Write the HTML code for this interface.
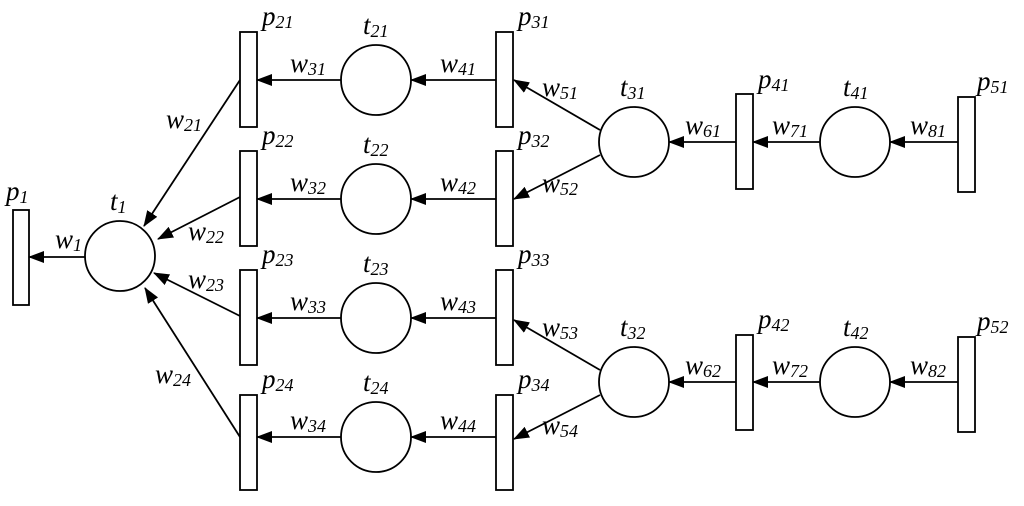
<!DOCTYPE html>
<html><head><style>body{margin:0;background:#fff} text{font-family:"Liberation Serif","DejaVu Serif",serif;font-style:italic}</style></head><body>
<svg width="1024" height="501" viewBox="0 0 1024 501" xmlns="http://www.w3.org/2000/svg">
<defs><marker id="a" markerWidth="16" markerHeight="12" refX="15" refY="6" orient="auto" markerUnits="userSpaceOnUse"><path d="M0,0 L16,6 L0,12 Z" fill="#000"/></marker></defs>
<g fill="#fff" stroke="#000" stroke-width="1.8">
<rect x="13" y="210" width="16" height="95"/>
<rect x="240" y="32" width="17" height="95"/><rect x="240" y="151" width="17" height="95"/>
<rect x="240" y="270" width="17" height="95"/><rect x="240" y="395" width="17" height="95"/>
<rect x="496" y="32" width="17" height="95"/><rect x="496" y="151" width="17" height="95"/>
<rect x="496" y="270" width="17" height="95"/><rect x="496" y="395" width="17" height="95"/>
<rect x="736" y="94" width="17" height="95"/><rect x="736" y="335" width="17" height="95"/>
<rect x="958" y="97" width="17" height="95"/><rect x="958" y="337" width="17" height="95"/>
<circle cx="120" cy="256" r="35"/>
<circle cx="376" cy="80" r="35"/><circle cx="376" cy="199" r="35"/>
<circle cx="376" cy="318" r="35"/><circle cx="376" cy="437" r="35"/>
<circle cx="634" cy="142" r="35"/><circle cx="634" cy="382" r="35"/>
<circle cx="855" cy="142" r="35"/><circle cx="855" cy="382" r="35"/>
</g>
<g stroke="#000" stroke-width="1.8" marker-end="url(#a)">
<line x1="85" y1="257" x2="29" y2="257"/>
<line x1="240" y1="80" x2="144" y2="226"/>
<line x1="240" y1="197" x2="158" y2="239"/>
<line x1="240" y1="316" x2="154" y2="273"/>
<line x1="240" y1="437" x2="145" y2="288"/>
<line x1="341" y1="80" x2="257" y2="80"/><line x1="496" y1="80" x2="411" y2="80"/>
<line x1="341" y1="199" x2="257" y2="199"/><line x1="496" y1="199" x2="411" y2="199"/>
<line x1="341" y1="318" x2="257" y2="318"/><line x1="496" y1="318" x2="411" y2="318"/>
<line x1="341" y1="437" x2="257" y2="437"/><line x1="496" y1="437" x2="411" y2="437"/>
<line x1="600" y1="130" x2="514" y2="80"/><line x1="600" y1="155" x2="514" y2="199"/>
<line x1="600" y1="370" x2="514" y2="320"/><line x1="600" y1="395" x2="514" y2="439"/>
<line x1="736" y1="142" x2="669" y2="142"/><line x1="820" y1="142" x2="753" y2="142"/><line x1="958" y1="142" x2="890" y2="142"/>
<line x1="736" y1="382" x2="669" y2="382"/><line x1="820" y1="382" x2="753" y2="382"/><line x1="958" y1="382" x2="890" y2="382"/>
</g>
<g font-size="27" fill="#000">
<text x="6" y="200">p<tspan font-size="18" dy="3">1</tspan></text>
<text x="110" y="210">t<tspan font-size="18" dy="3">1</tspan></text>
<text x="55" y="248">w<tspan font-size="18" dy="3">1</tspan></text>
<text x="166" y="128">w<tspan font-size="18" dy="3">21</tspan></text>
<text x="188" y="240">w<tspan font-size="18" dy="3">22</tspan></text>
<text x="188" y="288">w<tspan font-size="18" dy="3">23</tspan></text>
<text x="155" y="383">w<tspan font-size="18" dy="3">24</tspan></text>
<text x="262" y="25">p<tspan font-size="18" dy="3">21</tspan></text>
<text x="262" y="144">p<tspan font-size="18" dy="3">22</tspan></text>
<text x="262" y="263">p<tspan font-size="18" dy="3">23</tspan></text>
<text x="262" y="388">p<tspan font-size="18" dy="3">24</tspan></text>
<text x="363" y="34">t<tspan font-size="18" dy="3">21</tspan></text>
<text x="363" y="153">t<tspan font-size="18" dy="3">22</tspan></text>
<text x="363" y="272">t<tspan font-size="18" dy="3">23</tspan></text>
<text x="363" y="391">t<tspan font-size="18" dy="3">24</tspan></text>
<text x="290" y="72">w<tspan font-size="18" dy="3">31</tspan></text>
<text x="290" y="191">w<tspan font-size="18" dy="3">32</tspan></text>
<text x="290" y="310">w<tspan font-size="18" dy="3">33</tspan></text>
<text x="290" y="429">w<tspan font-size="18" dy="3">34</tspan></text>
<text x="440" y="72">w<tspan font-size="18" dy="3">41</tspan></text>
<text x="440" y="191">w<tspan font-size="18" dy="3">42</tspan></text>
<text x="440" y="310">w<tspan font-size="18" dy="3">43</tspan></text>
<text x="440" y="429">w<tspan font-size="18" dy="3">44</tspan></text>
<text x="518" y="25">p<tspan font-size="18" dy="3">31</tspan></text>
<text x="518" y="144">p<tspan font-size="18" dy="3">32</tspan></text>
<text x="518" y="263">p<tspan font-size="18" dy="3">33</tspan></text>
<text x="518" y="388">p<tspan font-size="18" dy="3">34</tspan></text>
<text x="542" y="96">w<tspan font-size="18" dy="3">51</tspan></text>
<text x="542" y="192">w<tspan font-size="18" dy="3">52</tspan></text>
<text x="542" y="336">w<tspan font-size="18" dy="3">53</tspan></text>
<text x="542" y="434">w<tspan font-size="18" dy="3">54</tspan></text>
<text x="620" y="96">t<tspan font-size="18" dy="3">31</tspan></text>
<text x="620" y="336">t<tspan font-size="18" dy="3">32</tspan></text>
<text x="685" y="134">w<tspan font-size="18" dy="3">61</tspan></text>
<text x="685" y="374">w<tspan font-size="18" dy="3">62</tspan></text>
<text x="758" y="88">p<tspan font-size="18" dy="3">41</tspan></text>
<text x="758" y="328">p<tspan font-size="18" dy="3">42</tspan></text>
<text x="772" y="134">w<tspan font-size="18" dy="3">71</tspan></text>
<text x="772" y="374">w<tspan font-size="18" dy="3">72</tspan></text>
<text x="843" y="96">t<tspan font-size="18" dy="3">41</tspan></text>
<text x="843" y="336">t<tspan font-size="18" dy="3">42</tspan></text>
<text x="910" y="134">w<tspan font-size="18" dy="3">81</tspan></text>
<text x="910" y="374">w<tspan font-size="18" dy="3">82</tspan></text>
<text x="977" y="90">p<tspan font-size="18" dy="3">51</tspan></text>
<text x="977" y="330">p<tspan font-size="18" dy="3">52</tspan></text>
</g>
</svg>
</body></html>
